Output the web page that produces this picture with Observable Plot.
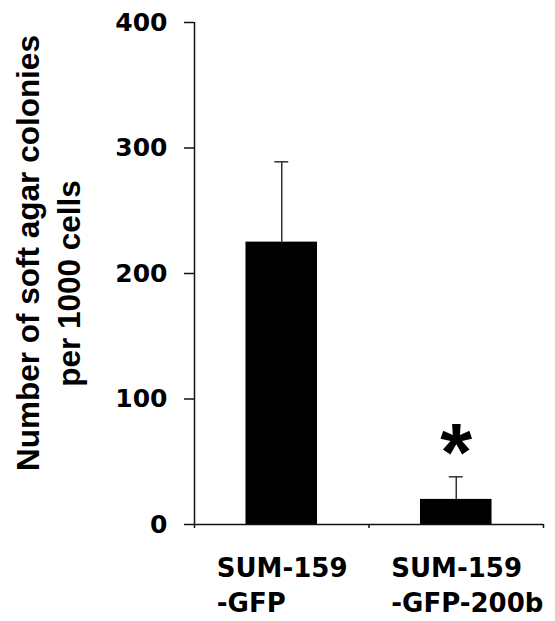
<!DOCTYPE html>
<html><head><meta charset="utf-8">
<script src="https://cdn.jsdelivr.net/npm/d3@7"></script>
<script src="https://cdn.jsdelivr.net/npm/@observablehq/plot@0.6"></script>
<style>body{margin:0;background:#fff}</style>
</head><body><div id="chart"></div>
<script>
const categories = ["SUM-159\n-GFP", "SUM-159\n-GFP-200b"];
const means = [225, 20];
const errors = [64, 18];
const significance = ["", "*"];
const yTicks = [0, 100, 200, 300, 400];
const yTitleLines = ["Number of soft agar colonies", "per 1000 cells"];

const data = categories.map((c, i) => ({label: c, idx: i, mean: means[i], err: errors[i], sig: significance[i]}));
const BAR = 0.41;   // bar width as fraction of category
const CAP = 0.04;   // half cap width in category units
const tickFont = "DejaVu Sans";
const titleFont = "Liberation Sans, Arial, sans-serif";

const chart = Plot.plot({
  width: 555, height: 621,
  marginLeft: 194, marginRight: 12, marginTop: 22, marginBottom: 97,
  x: {domain: [0, categories.length], axis: null},
  y: {domain: [0, 400], axis: null},
  style: {background: "#fff", color: "#000", overflow: "visible"},
  marks: [
    Plot.rectY(data, {x1: d => d.idx + 0.5 - BAR / 2, x2: d => d.idx + 0.5 + BAR / 2, y1: 0, y2: "mean", fill: "#000"}),
    Plot.ruleX(data, {x: d => d.idx + 0.5, y1: "mean", y2: d => d.mean + d.err, stroke: "#333", strokeWidth: 1.5}),
    Plot.ruleY(data, {y: d => d.mean + d.err, x1: d => d.idx + 0.5 - CAP, x2: d => d.idx + 0.5 + CAP, stroke: "#333", strokeWidth: 1.5}),
    Plot.text(data, {x: d => d.idx + 0.5, y: d => d.mean + d.err, text: "sig", fontSize: 82, fontWeight: "bold", fontFamily: titleFont, lineAnchor: "bottom", dy: 3}),
    Plot.ruleX([0], {stroke: "#111", strokeWidth: 1.5}),
    Plot.ruleY([0], {stroke: "#111", strokeWidth: 1.5}),
    Plot.axisY(yTicks, {tickSize: 10, tickPadding: 17, fontSize: 25, fontFamily: tickFont, fontWeight: "bold", label: null, stroke: "#111", strokeWidth: 1.5}),
    Plot.axisX(d3.range(categories.length + 1), {tickSize: 4, tickFormat: () => "", label: null, stroke: "#111", strokeWidth: 1.5}),
    Plot.text(data, {x: d => d.idx + 0.5, frameAnchor: "bottom", text: "label", textAnchor: "start", lineAnchor: "top", dx: -65, dy: 27, lineHeight: 1.36, fontSize: 26, fontFamily: tickFont, fontWeight: "bold"}),
    Plot.text([yTitleLines[0]], {frameAnchor: "left", text: d => d, rotate: -90, textAnchor: "middle", lineAnchor: "bottom", dx: -156, dy: -20.5, fontSize: 31.5, fontWeight: "bold", fontFamily: titleFont}),
    Plot.text([yTitleLines[1]], {frameAnchor: "left", text: d => d, rotate: -90, textAnchor: "middle", lineAnchor: "bottom", dx: -115, dy: 10, fontSize: 31.5, fontWeight: "bold", fontFamily: titleFont})
  ]
});
document.getElementById("chart").appendChild(chart);
</script>
</body></html>
